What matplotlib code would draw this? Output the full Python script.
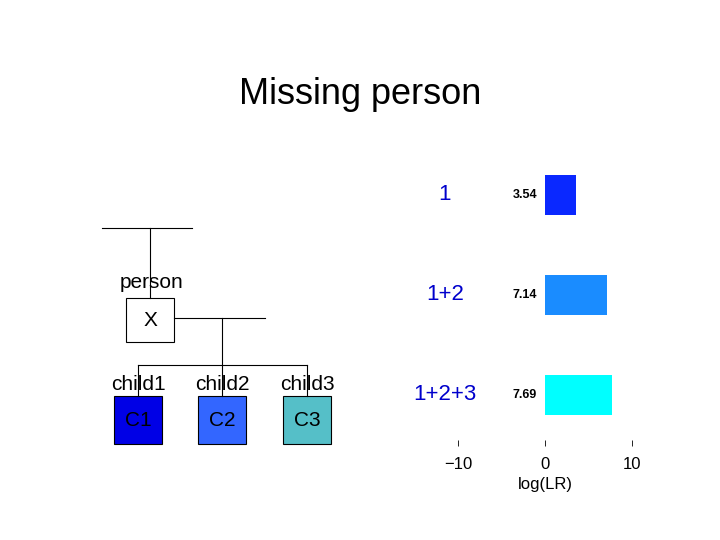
import numpy as np
import matplotlib.pyplot as plt
from matplotlib.patches import Rectangle

plt.rcParams['font.family'] = ['Liberation Sans', 'DejaVu Sans']

# bar data
groups = ['1', '1+2', '1+2+3']
log_lr = [3.54, 7.14, 7.69]
bar_colors = ['#0a28ff', '#1a8cff', '#00ffff']
x_ticks = [-10, 0, 10]

# pedigree
children = ['child1', 'child2', 'child3']
child_codes = ['C1', 'C2', 'C3']
child_colors = ['#0000e6', '#3366ff', '#55bfc8']

W, H = 720, 540
fig = plt.figure(figsize=(7.2, 5.4), dpi=100)

# overlay in pixel coords
ov = fig.add_axes([0, 0, 1, 1])
ov.set_xlim(0, W)
ov.set_ylim(H, 0)
ov.axis('off')

ov.text(360, 95, 'Missing person', ha='center', va='center', fontsize=26)

lk = dict(color='black', lw=0.8)
ov.plot([102, 192], [228, 228], **lk)
ov.plot([150, 150], [228, 298], **lk)
ov.text(152, 283, 'person', ha='center', va='center', fontsize=15)
ov.add_patch(Rectangle((126, 298), 48, 44, fc='white', ec='black', lw=0.8))
ov.text(150, 320, 'X', ha='center', va='center', fontsize=15)
ov.plot([174, 265], [318, 318], **lk)
ov.plot([222, 222], [318, 365], **lk)
ov.plot([138, 307], [365, 365], **lk)
cx = [138, 222, 307]
for i, name in enumerate(children):
    ov.plot([cx[i], cx[i]], [365, 396], **lk)
    ov.text(cx[i], 384, name, ha='center', va='center', fontsize=15, zorder=3)
    ov.add_patch(Rectangle((cx[i] - 24, 396), 48, 48, fc=child_colors[i], ec='black', lw=0.8))
    ov.text(cx[i], 420, child_codes[i], ha='center', va='center', fontsize=15)

# bar chart
ax = fig.add_axes([458 / W, 1 - 440 / H, (632 - 458) / W, (440 - 145) / H])
ypos = np.arange(len(groups))
ax.barh(ypos, log_lr, height=0.4, color=bar_colors)
ax.set_xlim(-10, 10)
ax.set_ylim(2.45, -0.5)
ax.set_yticks([])
ax.set_xticks(x_ticks)
ax.tick_params(axis='x', length=4, width=0.6, labelsize=12, pad=8)
for s in ax.spines.values():
    s.set_visible(False)
ax.set_xlabel('log(LR)', fontsize=12, labelpad=4)
for i, g in enumerate(groups):
    ax.text(-11.5, ypos[i], g, ha='center', va='center', fontsize=16, color='#0000cc')
    ax.text(-2.3, ypos[i], f'{log_lr[i]:.2f}', ha='center', va='center', fontsize=9, fontweight='bold')

fig.savefig('out.png', dpi=100)
